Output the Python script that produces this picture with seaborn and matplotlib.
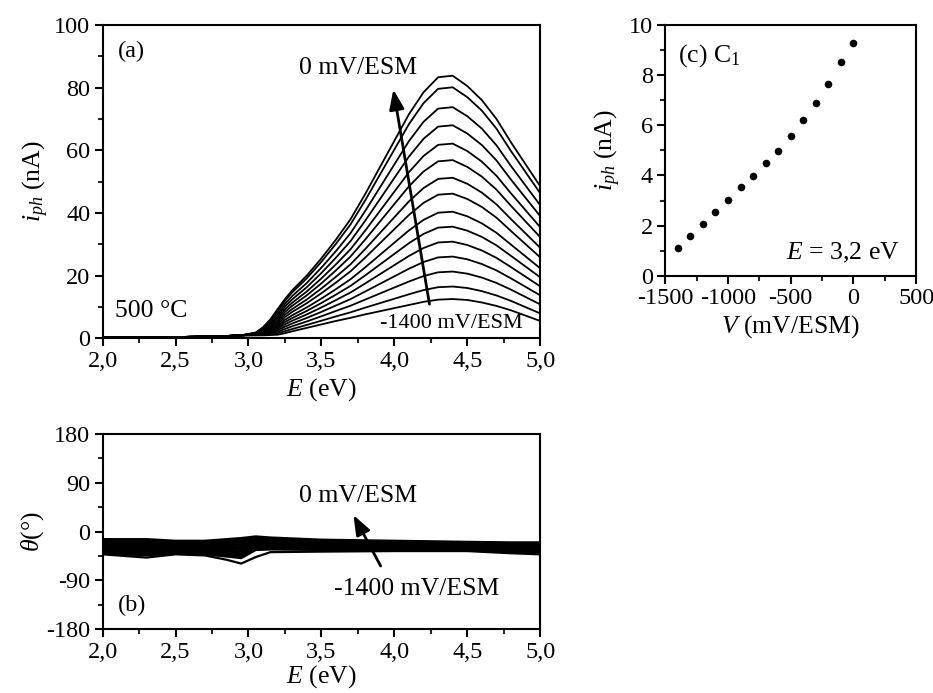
import numpy as np
import pandas as pd
import matplotlib
matplotlib.use("Agg")
import matplotlib.pyplot as plt
import seaborn as sns
from matplotlib.ticker import MultipleLocator, FixedLocator, FixedFormatter

# ---------------- data ----------------
potentials = [-1400, -1300, -1200, -1100, -1000, -900, -800, -700,
              -600, -500, -400, -300, -200, -100, 0]

E_grid = [2.0, 2.5, 2.8, 2.95, 3.05, 3.1, 3.15, 3.2, 3.25, 3.3, 3.4, 3.5, 3.6,
          3.7, 3.8, 3.9, 4.0, 4.1, 4.2, 4.3, 4.4, 4.5, 4.6, 4.7, 4.8, 4.9, 5.0]

iph_m1400 = [0.2, 0.35, 0.6, 0.9, 0.9, 0.9, 1.0, 1.10, 1.6, 2.2, 3.3, 4.4, 5.5, 6.5, 7.6, 8.6, 9.6, 10.6, 11.6, 12.3, 12.5, 12.2, 11.4, 10.3, 8.9, 7.2, 5.5]
iph_m1300 = [0.2, 0.35, 0.6, 0.9, 0.95, 1.05, 1.28, 1.58, 2.21, 2.93, 4.24, 5.58, 6.96, 8.26, 9.75, 11.17, 12.59, 14.01, 15.35, 16.28, 16.49, 16.02, 15.02, 13.64, 11.9, 9.9, 7.91]
iph_m1200 = [0.2, 0.35, 0.6, 0.9, 1.01, 1.22, 1.62, 2.07, 2.94, 3.81, 5.35, 7.0, 8.7, 10.37, 12.32, 14.25, 16.17, 18.09, 19.83, 21.03, 21.27, 20.6, 19.35, 17.64, 15.49, 13.14, 10.79]
iph_m1100 = [0.2, 0.35, 0.6, 0.9, 1.07, 1.39, 1.95, 2.55, 3.67, 4.69, 6.47, 8.41, 10.44, 12.49, 14.9, 17.32, 19.75, 22.17, 24.31, 25.79, 26.05, 25.18, 23.67, 21.64, 19.08, 16.38, 13.67]
iph_m1000 = [0.2, 0.35, 0.6, 0.9, 1.13, 1.57, 2.29, 3.04, 4.4, 5.57, 7.59, 9.82, 12.18, 14.6, 17.47, 20.4, 23.32, 26.25, 28.79, 30.55, 30.82, 29.75, 28.0, 25.64, 22.68, 19.61, 16.55]
iph_m900 = [0.2, 0.35, 0.6, 0.9, 1.19, 1.74, 2.62, 3.53, 5.13, 6.44, 8.71, 11.24, 13.92, 16.71, 20.04, 23.47, 26.9, 30.33, 33.28, 35.3, 35.6, 34.33, 32.33, 29.64, 26.27, 22.85, 19.43]
iph_m800 = [0.2, 0.35, 0.6, 0.9, 1.25, 1.92, 2.96, 3.98, 5.86, 7.32, 9.83, 12.65, 15.67, 18.82, 22.61, 26.55, 30.48, 34.41, 37.76, 40.06, 40.38, 38.91, 36.66, 33.64, 29.86, 26.09, 22.31]
iph_m700 = [0.2, 0.35, 0.6, 0.9, 1.32, 2.13, 3.36, 4.48, 6.74, 8.38, 11.18, 14.36, 17.77, 21.37, 25.72, 30.26, 34.8, 39.34, 43.18, 45.81, 46.15, 44.44, 41.89, 38.48, 34.2, 30.0, 25.8]
iph_m600 = [0.2, 0.35, 0.6, 0.9, 1.39, 2.31, 3.72, 4.99, 7.52, 9.31, 12.37, 15.86, 19.62, 23.6, 28.45, 33.52, 38.6, 43.67, 47.93, 50.85, 51.22, 49.29, 46.48, 42.72, 38.0, 33.43, 28.85]
iph_m500 = [0.2, 0.35, 0.6, 0.9, 1.46, 2.52, 4.11, 5.56, 8.38, 10.35, 13.69, 17.52, 21.67, 26.09, 31.48, 37.15, 42.81, 48.48, 53.21, 56.46, 56.85, 54.68, 51.58, 47.43, 42.24, 37.24, 32.25]
iph_m400 = [0.2, 0.35, 0.6, 0.9, 1.53, 2.71, 4.48, 6.23, 9.19, 11.32, 14.92, 19.09, 23.6, 28.42, 34.33, 40.55, 46.77, 52.99, 58.16, 61.72, 62.12, 59.74, 56.36, 51.85, 46.21, 40.82, 35.43]
iph_m300 = [0.2, 0.35, 0.6, 0.9, 1.6, 2.92, 4.89, 6.89, 10.08, 12.39, 16.29, 20.82, 25.73, 31.01, 37.48, 44.31, 51.15, 57.98, 63.65, 67.54, 67.97, 65.34, 61.66, 56.75, 50.6, 44.78, 38.95]
iph_m200 = [0.2, 0.35, 0.6, 0.9, 1.67, 3.13, 5.3, 7.66, 10.96, 13.45, 17.65, 22.52, 27.83, 33.56, 40.59, 48.03, 55.47, 62.91, 69.07, 73.29, 73.75, 70.87, 66.89, 61.58, 54.94, 48.69, 42.44]
iph_m100 = [0.2, 0.35, 0.6, 0.9, 1.75, 3.36, 5.74, 8.51, 11.93, 14.62, 19.13, 24.4, 30.15, 36.36, 44.0, 52.11, 60.22, 68.33, 75.02, 79.61, 80.09, 76.95, 72.64, 66.9, 59.71, 52.99, 46.26]
iph_0 = [0.2, 0.35, 0.6, 0.9, 1.8, 3.5, 6.0, 9.3, 12.5, 15.3, 20.0, 25.5, 31.5, 38.0, 46.0, 54.5, 63.0, 71.5, 78.5, 83.3, 83.8, 80.5, 76.0, 70.0, 62.5, 55.5, 48.5]

E_phase = [2.0, 2.3, 2.5, 2.7, 2.85, 2.95, 3.05, 3.15, 3.5, 4.0, 4.5, 4.8, 5.0]
th_m1400 = [-42, -48, -42, -44, -52, -59, -47, -38, -37, -36, -36, -40, -42]
th_m1300 = [-40, -44, -40, -42, -46, -49, -34, -33, -34, -34, -35, -38, -38]
th_m1200 = [-38.0, -41.7, -38.2, -40.1, -43.5, -46.2, -32.1, -31.3, -32.5, -32.7, -33.8, -36.6, -36.6]
th_m1100 = [-36.0, -39.4, -36.5, -38.2, -41.1, -43.3, -30.2, -29.6, -31.1, -31.4, -32.5, -35.2, -35.2]
th_m1000 = [-34.0, -37.1, -34.7, -36.2, -38.6, -40.5, -28.2, -27.9, -29.6, -30.1, -31.3, -33.8, -33.8]
th_m900 = [-32.0, -34.8, -32.9, -34.3, -36.1, -37.6, -26.3, -26.2, -28.1, -28.8, -30.1, -32.5, -32.5]
th_m800 = [-30.0, -32.5, -31.1, -32.4, -33.7, -34.8, -24.4, -24.5, -26.7, -27.5, -28.8, -31.1, -31.1]
th_m700 = [-28.0, -30.1, -29.4, -30.5, -31.2, -31.9, -22.5, -22.8, -25.2, -26.1, -27.6, -29.7, -29.7]
th_m600 = [-26.0, -27.9, -27.6, -28.6, -28.8, -29.1, -20.6, -21.2, -23.8, -24.9, -26.4, -28.3, -28.3]
th_m500 = [-24.0, -25.6, -25.9, -26.6, -26.3, -26.2, -18.6, -19.5, -22.3, -23.5, -25.2, -26.9, -26.9]
th_m400 = [-22.0, -23.2, -24.1, -24.7, -23.9, -23.4, -16.7, -17.8, -20.9, -22.2, -23.9, -25.5, -25.5]
th_m300 = [-20.0, -20.9, -22.3, -22.8, -21.4, -20.5, -14.8, -16.1, -19.4, -20.9, -22.7, -24.2, -24.2]
th_m200 = [-18.0, -18.6, -20.5, -20.9, -18.9, -17.7, -12.9, -14.4, -17.9, -19.6, -21.5, -22.8, -22.8]
th_m100 = [-16.0, -16.3, -18.8, -18.9, -16.5, -14.8, -10.9, -12.7, -16.5, -18.3, -20.2, -21.4, -21.4]
th_0 = [-14, -14, -17, -17, -14, -12, -9, -11, -15, -17, -19, -20, -20]

V_c = [-1400, -1300, -1200, -1100, -1000, -900, -800, -700,
       -600, -500, -400, -300, -200, -100, 0]
iph_c = [1.10, 1.58, 2.07, 2.55, 3.04, 3.53, 3.98, 4.48, 4.99, 5.56, 6.23, 6.89, 7.66, 8.51, 9.30]

E_ticks = [2.0, 2.5, 3.0, 3.5, 4.0, 4.5, 5.0]
E_ticklabels = ["2,0", "2,5", "3,0", "3,5", "4,0", "4,5", "5,0"]

iph_curves = [iph_m1400, iph_m1300, iph_m1200, iph_m1100, iph_m1000, iph_m900, iph_m800,
              iph_m700, iph_m600, iph_m500, iph_m400, iph_m300, iph_m200, iph_m100, iph_0]
th_curves = [th_m1400, th_m1300, th_m1200, th_m1100, th_m1000, th_m900, th_m800,
             th_m700, th_m600, th_m500, th_m400, th_m300, th_m200, th_m100, th_0]

df_a = pd.DataFrame([(E, v, p) for p, c in zip(potentials, iph_curves) for E, v in zip(E_grid, c)],
                    columns=["E", "iph", "V"])
df_b = pd.DataFrame([(E, v, p) for p, c in zip(potentials, th_curves) for E, v in zip(E_phase, c)],
                    columns=["E", "theta", "V"])
df_c = pd.DataFrame({"V": V_c, "iph": iph_c})

# ---------------- style ----------------
sns.set_theme(style="ticks")
plt.rcParams["font.family"] = ["Liberation Serif", "DejaVu Serif"]
plt.rcParams["mathtext.fontset"] = "custom"
plt.rcParams["mathtext.rm"] = "Liberation Serif"
plt.rcParams["mathtext.it"] = "Liberation Serif:italic"
plt.rcParams["axes.unicode_minus"] = False
plt.rcParams["axes.linewidth"] = 1.5
plt.rcParams["text.color"] = "black"
plt.rcParams["axes.labelcolor"] = "black"
plt.rcParams["axes.edgecolor"] = "black"

TICK_FS = 17.5
LAB_FS = 18.5

fig = plt.figure(figsize=(9.33, 6.93), dpi=100)
ax_a = fig.add_axes([0.110, 0.512, 0.469, 0.452])
ax_b = fig.add_axes([0.110, 0.092, 0.469, 0.282])
ax_c = fig.add_axes([0.713, 0.602, 0.269, 0.362])


def style_axis(ax):
    for s in ax.spines.values():
        s.set_visible(True)
        s.set_linewidth(1.5)
        s.set_color("black")
    ax.tick_params(which="major", direction="out", length=6, width=1.5, pad=3,
                   labelsize=TICK_FS, colors="black", top=False, right=False)
    ax.tick_params(which="minor", direction="out", length=3.5, width=1.5,
                   top=False, right=False)


palette = ["black"] * len(potentials)

# (a)
sns.lineplot(data=df_a, x="E", y="iph", hue="V", palette=palette, units="V",
             estimator=None, legend=False, lw=1.3, ax=ax_a)
ax_a.set_xlim(2.0, 5.0)
ax_a.set_ylim(0, 100)
ax_a.xaxis.set_major_locator(FixedLocator(E_ticks))
ax_a.xaxis.set_major_formatter(FixedFormatter(E_ticklabels))
ax_a.xaxis.set_minor_locator(MultipleLocator(0.25))
ax_a.yaxis.set_major_locator(MultipleLocator(20))
ax_a.yaxis.set_minor_locator(MultipleLocator(10))
ax_a.set_xlabel("$E$ (eV)", fontsize=LAB_FS, labelpad=3)
ax_a.set_ylabel("$i_{ph}$ (nA)", fontsize=LAB_FS, labelpad=2)
style_axis(ax_a)
ax_a.annotate("", xy=(3.99, 80.3), xytext=(4.244, 10.0),
              arrowprops=dict(arrowstyle="-|>,head_length=0.8,head_width=0.3",
                              mutation_scale=15, lw=2, color="black"))
ax_a.text(3.75, 86.3, "0 mV/ESM", ha="center", va="center", fontsize=18.5)
ax_a.text(4.39, 4.6, "-1400 mV/ESM", ha="center", va="center", fontsize=16)
ax_a.text(2.2, 91.4, "(a)", ha="center", va="center", fontsize=17.5)
ax_a.text(2.33, 8.6, "500 °C", ha="center", va="center", fontsize=18.5)

# (b)
sns.lineplot(data=df_b, x="E", y="theta", hue="V", palette=palette, units="V",
             estimator=None, legend=False, lw=1.6, ax=ax_b)
ax_b.set_xlim(2.0, 5.0)
ax_b.set_ylim(-180, 180)
ax_b.xaxis.set_major_locator(FixedLocator(E_ticks))
ax_b.xaxis.set_major_formatter(FixedFormatter(E_ticklabels))
ax_b.xaxis.set_minor_locator(MultipleLocator(0.25))
ax_b.yaxis.set_major_locator(MultipleLocator(90))
ax_b.yaxis.set_minor_locator(MultipleLocator(45))
ax_b.set_xlabel("$E$ (eV)", fontsize=LAB_FS, labelpad=0)
ax_b.set_ylabel(r"$\theta$(°)", fontsize=LAB_FS, labelpad=0)
style_axis(ax_b)
ax_b.annotate("", xy=(3.71, 35), xytext=(3.915, -68),
              arrowprops=dict(arrowstyle="-|>,head_length=0.8,head_width=0.3",
                              mutation_scale=15, lw=2, color="black"))
ax_b.text(3.75, 64.8, "0 mV/ESM", ha="center", va="center", fontsize=18.5)
ax_b.text(4.15, -106, "-1400 mV/ESM", ha="center", va="center", fontsize=18.5)
ax_b.text(2.2, -137, "(b)", ha="center", va="center", fontsize=17.5)

# (c)
sns.scatterplot(data=df_c, x="V", y="iph", color="black", s=30, edgecolor="black",
                linewidth=0, ax=ax_c)
ax_c.set_xlim(-1500, 500)
ax_c.set_ylim(0, 10)
ax_c.xaxis.set_major_locator(MultipleLocator(500))
ax_c.xaxis.set_minor_locator(MultipleLocator(250))
ax_c.yaxis.set_major_locator(MultipleLocator(2))
ax_c.yaxis.set_minor_locator(MultipleLocator(1))
ax_c.set_xlabel("$V$ (mV/ESM)", fontsize=LAB_FS, labelpad=3)
ax_c.set_ylabel("$i_{ph}$ (nA)", fontsize=LAB_FS, labelpad=4)
style_axis(ax_c)
ax_c.text(0.05, 0.93, "(c) C$_1$", transform=ax_c.transAxes, ha="left", va="top", fontsize=18.5)
ax_c.text(0.935, 0.09, "$E$ = 3,2 eV", transform=ax_c.transAxes, ha="right", va="center", fontsize=18.5)

fig.savefig("out.png", dpi=100)
